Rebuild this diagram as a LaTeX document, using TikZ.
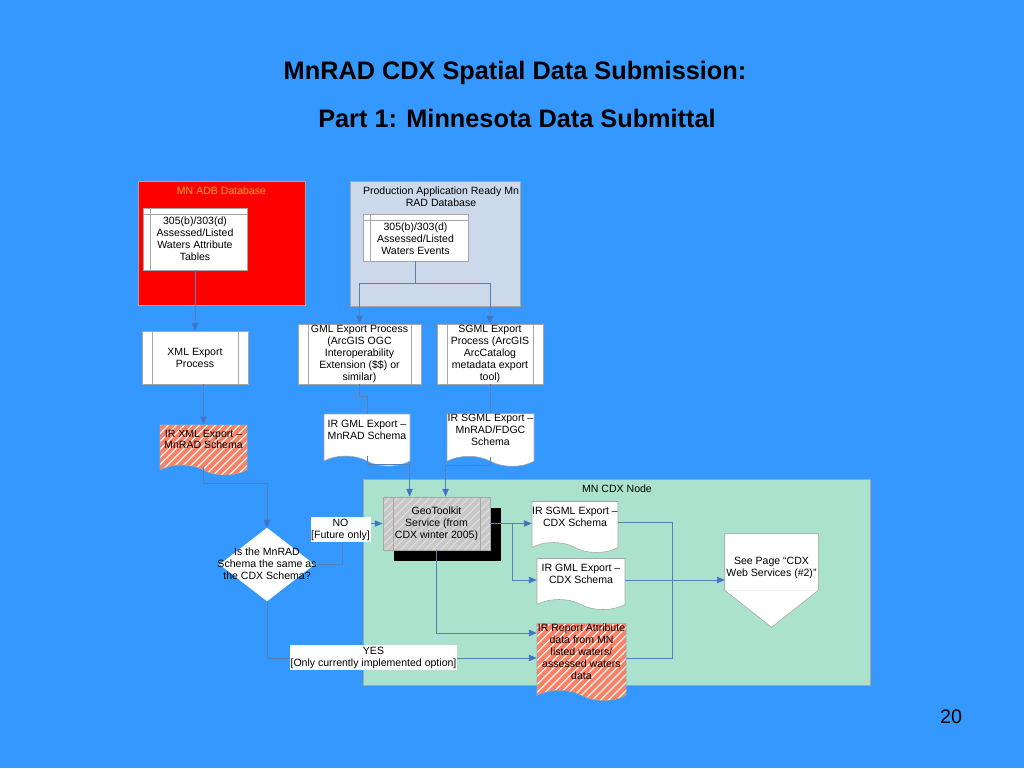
\documentclass[tikz,border=0pt]{standalone}
\usepackage{fontspec}
\setmainfont{Liberation Sans}
\usetikzlibrary{shapes.geometric,shapes.symbols,arrows.meta,patterns.meta,shadows,calc}

\definecolor{fondo}{RGB}{52,152,255}
\definecolor{rojo}{RGB}{255,0,0}
\definecolor{naranja}{RGB}{255,172,40}
\definecolor{grisazul}{RGB}{204,217,234}
\definecolor{menta}{RGB}{170,226,206}
\definecolor{salmon}{RGB}{255,128,100}
\definecolor{gristk}{RGB}{200,200,200}
\definecolor{linea}{RGB}{88,128,178}
\definecolor{punta}{RGB}{66,116,196}

\begin{document}
\begin{tikzpicture}[x=0.25mm,y=-0.25mm,
  font=\fontsize{7.5}{8.5}\selectfont,
  borde/.style={draw=gray!70,line width=0.4pt},
  caja/.style={borde,fill=white,align=center,inner sep=0pt},
  proceso/.style={caja,path picture={
    \draw[gray!70] ([xshift=2.5mm]path picture bounding box.north west) -- ([xshift=2.5mm]path picture bounding box.south west);
    \draw[gray!70] ([xshift=-2.5mm]path picture bounding box.north east) -- ([xshift=-2.5mm]path picture bounding box.south east);}},
  tabla/.style={caja,path picture={
    \draw[gray!70] ([xshift=1.75mm]path picture bounding box.north west) -- ([xshift=1.75mm]path picture bounding box.south west);
    \draw[gray!70] ([yshift=-1.5mm]path picture bounding box.north west) -- ([yshift=-1.5mm]path picture bounding box.north east);}},
  documento/.style={borde,align=center,inner sep=0pt,text depth=8pt,tape,tape bend top=none,tape bend bottom=out and in,tape bend height=2.5mm},
  rayado/.style={preaction={fill=salmon},pattern={Lines[angle=45,distance=4pt,line width=1pt]},pattern color=white!85!salmon},
  linea/.style={draw=linea,line width=0.5pt},
  flecha/.style={linea,-{Triangle[length=5.5pt,width=4.5pt,color=punta]}},
  etiqueta/.style={fill=white,inner xsep=0.5pt,inner ysep=1pt,align=center}]

\fill[fondo] (0,0) rectangle (1024,768);

\node[font=\bfseries\fontsize{18}{22}\selectfont] (titulo1) at (515,73) {MnRAD CDX Spatial Data Submission:};
\node[font=\bfseries\fontsize{18}{22}\selectfont] (titulo2) at (517,118) {Part 1: Minnesota Data Submittal};

% zona del nodo CDX
\node[borde,fill=menta,minimum width=126.75mm,minimum height=51.5mm,inner sep=0pt] (cdx) at (616.5,582) {};
\node (cdxtit) at (617,489) {MN CDX Node};

% base MN ADB
\node[borde,fill=rojo,minimum width=41.75mm,minimum height=31mm] (adb) at (221.5,243) {};
\node[text=naranja] (adbtit) at (221.5,191) {MN ADB Database};
\node[tabla,minimum width=26mm,minimum height=15.5mm] (adbtab) at (195,239) {305(b)/303(d)\\Assessed/Listed\\Waters Attribute\\Tables};

% base de produccion
\node[borde,fill=grisazul,minimum width=42.5mm,minimum height=31.25mm] (prod) at (435,243.5) {};
\node[align=center] (prodtit) at (441,197) {Production Application Ready Mn\\RAD Database};
\node[tabla,minimum width=26.25mm,minimum height=11.75mm] (prodtab) at (415.5,237.5) {\rule{0pt}{7pt}305(b)/303(d)\\Assessed/Listed\\Waters Events};

% procesos de exportacion
\node[proceso,minimum width=26.5mm,minimum height=13.25mm] (xmlp) at (195,357.5) {XML Export\\Process};
\node[proceso,minimum width=30.75mm,minimum height=15mm] (gmlp) at (359.5,354) {GML Export Process\\(ArcGIS OGC\\Interoperability\\Extension (\$\$) or\\similar)};
\node[proceso,minimum width=26.5mm,minimum height=15mm] (sgmlp) at (490,354) {SGML Export\\Process (ArcGIS\\ArcCatalog\\metadata export\\tool)};

% documentos intermedios
\node[documento,rayado,minimum width=21.75mm,minimum height=12.5mm] (xmldoc) at (203.5,445) {IR XML Export --\\MnRAD Schema};
\node[documento,fill=white,minimum width=21.5mm,minimum height=13mm] (gmldoc) at (367,435) {IR GML Export --\\MnRAD Schema};
\node[documento,fill=white,minimum width=21.75mm,minimum height=13mm] (sgmldoc) at (490.5,435) {IR SGML Export --\\MnRAD/FDGC\\Schema};

% decision
\node[diamond,fill=white,draw=white,minimum width=23.5mm,minimum height=18.25mm,inner sep=0pt] (decide) at (267,564.5) {};
\node[align=center] (decidetxt) at (267,564) {Is the MnRAD\\Schema the same as\\the CDX Schema?};

% GeoToolkit con sombra
\node[proceso,drop shadow={shadow xshift=2.75mm,shadow yshift=-2.75mm,fill=black,opacity=1},
  preaction={fill=gristk},pattern={Lines[angle=45,distance=4pt,line width=0.6pt]},pattern color=white!55!gristk,
  minimum width=26.75mm,minimum height=13.25mm] (geo) at (436.5,523.5) {GeoToolkit\\Service (from\\CDX winter 2005)};

\node[documento,fill=white,minimum width=21.5mm,minimum height=12.75mm] (cdxsgml) at (575,522) {IR SGML Export --\\CDX Schema};
\node[documento,fill=white,minimum width=22mm,minimum height=12.75mm] (cdxgml) at (581,579) {IR GML Export --\\CDX Schema};
\node[documento,rayado,minimum width=22.25mm,minimum height=18.75mm] (report) at (581.5,657) {IR Report Attribute\\data from MN\\listed waters/\\assessed waters\\data};

% conector a otra pagina
\node[fill=white,minimum width=23.25mm,minimum height=14mm,inner sep=0pt,align=center] (seepage) at (771.5,562) {\rule{0pt}{14pt}See Page “CDX\\Web Services (\#2)”};
\fill[white] (seepage.south west) -- (seepage.south east) -- ($(seepage.south)+(0,37)$) -- cycle;
\draw[borde] (seepage.south west) -- (seepage.north west) -- (seepage.north east) -- (seepage.south east) -- ($(seepage.south)+(0,37)$) -- cycle;

% conectores
\draw[flecha] (adbtab.south) -- (xmlp.north);
\draw[flecha] (prodtab.south) -- ++(0,22) -| (gmlp.north);
\draw[flecha] (prodtab.south) -- ++(0,22) -| (sgmlp.north);
\draw[flecha] (xmlp.south -| xmldoc.north) -- (xmldoc.north);
\draw[linea] (gmlp.south) -- ++(0,12) -| (gmldoc.north);
\draw[linea] (sgmlp.south) -- (sgmlp.south |- sgmldoc.north);
\draw[flecha] (xmldoc.south) -- ++(0,18) -| (decide.north);
\draw[flecha] (gmldoc.south) -- ++(0,8) -| ($(geo.north west)+(27,0)$);
\draw[flecha] (sgmldoc.south) -- ++(0,9) -| ($(geo.north west)+(63,0)$);
\draw[flecha] (decide.east) -- ++(28,0) |- (geo.west);  % NO
\draw[flecha] (decide.south) |- ($(report.west)+(0,1)$); % YES
\draw[flecha] (geo.east) -- (geo.east -| cdxsgml.west);
\draw[flecha] (geo.east) -- ++(22,0) |- ($(cdxgml.west)+(0,1)$);
\draw[flecha] (geo.south) |- ($(report.west)+(0,-24)$);
\coordinate (colector) at (672,579.5);
\draw[linea] (cdxsgml.east) -| (colector) |- ($(report.east)+(0,1)$);
\draw[flecha] ($(cdxgml.east)+(0,1)$) -- ($(cdxgml.east -| seepage.west)+(0,1)$);

\node[etiqueta] (no) at (340.5,529.5) {NO\\{[Future only]}};
\node[etiqueta] (yes) at (373.5,657.5) {YES\\{[Only currently implemented option]}};

\node[font=\fontsize{14}{16}\selectfont] (pagina) at (951,717) {20};

\end{tikzpicture}
\end{document}
